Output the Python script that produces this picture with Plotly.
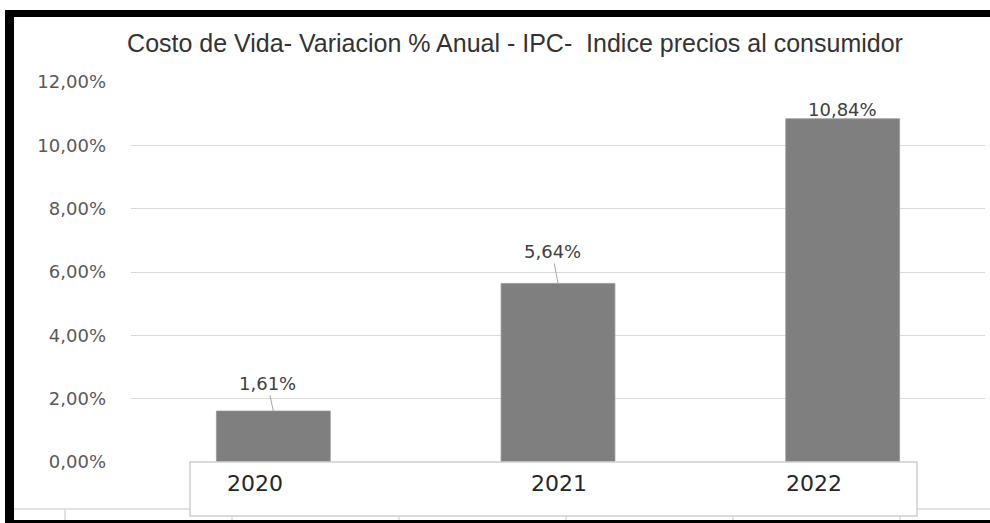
import plotly.graph_objects as go

# ---- data ----
years = ["2020", "2021", "2022"]
ipc_pct = [1.61, 5.64, 10.84]
y_ticks = [0, 2, 4, 6, 8, 10, 12]
y_tick_labels = ["0,00%", "2,00%", "4,00%", "6,00%", "8,00%", "10,00%", "12,00%"]
title_text = "Costo de Vida- Variacion % Anual - IPC-  Indice precios al consumidor"

# ---- layout geometry (pixels) ----
W, H = 990, 523
L, R, T, B = 131, 5, 82, 61
PW, PH = W - L - R, H - T - B


def px_x(p):
    return (p - L) / PW


def px_y(p):
    return (T + PH - p) / PH


fig = go.Figure()
fig.add_trace(go.Bar(
    x=years, y=ipc_pct,
    marker=dict(color="#7f7f7f", line=dict(color="#999999", width=0.8)),
    hoverinfo="skip",
))

# label styling (offsets in px for each data label)
label_offsets = [(-6, -28, True), (-6, -32, True), (0, 9, False)]
annotations = []
for i, (v, (ax, ay, arrow)) in enumerate(zip(ipc_pct, label_offsets)):
    txt = f"{v:.2f}%".replace(".", ",")
    if arrow:
        annotations.append(dict(
            x=i, y=v, xref="x", yref="y", text=txt, showarrow=True,
            ax=ax, ay=ay, arrowhead=0, arrowwidth=1, arrowcolor="#a6a6a6",
            standoff=0, startstandoff=0,
            font=dict(family="DejaVu Sans", size=18, color="#404040"),
        ))
    else:
        annotations.append(dict(
            x=i, y=v, xref="x", yref="y", text=txt, showarrow=False,
            yanchor="middle", yshift=ay,
            font=dict(family="DejaVu Sans", size=18, color="#404040"),
        ))

# category labels inside the white box
cat_shifts = [-18, 1, -29]
for i, (yr, xs) in enumerate(zip(years, cat_shifts)):
    annotations.append(dict(
        x=i, y=0, xref="x", yref="y", text=yr, showarrow=False,
        xshift=xs, yshift=-21, yanchor="middle",
        font=dict(family="DejaVu Sans", size=22, color="#262626"),
    ))

shapes = []
# faint underlying axis line and ticks at the bottom
shapes.append(dict(type="line", xref="paper", yref="paper",
                   x0=px_x(14), x1=px_x(990), y0=px_y(509), y1=px_y(509),
                   line=dict(color="#d9d9d9", width=1.5)))
for tx in [65, 232, 399, 566, 733, 900]:
    shapes.append(dict(type="line", xref="paper", yref="paper",
                       x0=px_x(tx), x1=px_x(tx), y0=px_y(509), y1=px_y(520),
                       line=dict(color="#d9d9d9", width=1.5)))
# white box behind the category labels
shapes.append(dict(type="rect", xref="paper", yref="paper",
                   x0=px_x(190), x1=px_x(917), y0=px_y(462), y1=px_y(516),
                   fillcolor="white", line=dict(color="#cfcfcf", width=1.5)))
# black frame
shapes.append(dict(type="rect", xref="paper", yref="paper",
                   x0=px_x(6), x1=px_x(995), y0=px_y(10), y1=px_y(17),
                   fillcolor="black", line=dict(width=0)))
shapes.append(dict(type="rect", xref="paper", yref="paper",
                   x0=px_x(5), x1=px_x(14), y0=px_y(10), y1=px_y(530),
                   fillcolor="black", line=dict(width=0)))
shapes.append(dict(type="rect", xref="paper", yref="paper",
                   x0=px_x(5), x1=px_x(995), y0=px_y(520), y1=px_y(530),
                   fillcolor="black", line=dict(width=0)))

fig.update_layout(
    width=W, height=H,
    margin=dict(l=L, r=R, t=T, b=B, pad=0),
    paper_bgcolor="white", plot_bgcolor="white",
    showlegend=False,
    bargap=0.6,
    title=dict(text=title_text, x=px_x(515), xanchor="center", xref="paper",
               y=1 - 43 / H, yanchor="middle", yref="container",
               font=dict(family="Liberation Sans", size=25, color="#333333")),
    xaxis=dict(type="category", range=[-0.5, 2.5], showticklabels=False,
               showgrid=False, zeroline=False, showline=False, ticks=""),
    yaxis=dict(range=[0, 12], tickmode="array", tickvals=y_ticks,
               ticktext=y_tick_labels,
               showgrid=True, gridcolor="#d9d9d9", gridwidth=1.2,
               zeroline=False, showline=False, ticks="",
               ticklabelstandoff=24,
               tickfont=dict(family="DejaVu Sans", size=18, color="#595959")),
    annotations=annotations,
    shapes=shapes,
)

fig.write_html(
    "out.html",
    config={"displayModeBar": False},
    post_script="document.body.style.margin='0';document.body.style.overflow='hidden';",
)
